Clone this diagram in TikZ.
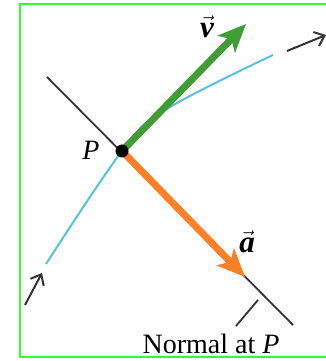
\documentclass[tikz,border=0pt]{standalone}
\usepackage{amsmath}
\usepackage{fontspec}
\setmainfont{Liberation Serif}
\usetikzlibrary{arrows.meta}
\definecolor{frameg}{HTML}{33FF33}
\definecolor{vgreen}{HTML}{3E9E34}
\definecolor{aorange}{HTML}{FF7F27}
\definecolor{curvec}{HTML}{55C3E0}
\definecolor{lineg}{HTML}{333333}
\newcommand{\myvecl}[1]{$\vec{\text{\bfseries\itshape #1}}$}
\tikzset{
  vecarrow/.style={line width=7pt,-{Stealth[length=28pt,width=24pt,inset=7pt]}},
  dirarrow/.style={line width=2pt,draw=lineg,-{Straight Barb[length=9pt,width=15pt]}},
  lbl/.style={font=\fontsize{28}{32}\selectfont, inner sep=0pt},
  veclbl/.style={font=\fontsize{31}{34}\selectfont, inner sep=0pt}
}
\begin{document}
\begin{tikzpicture}[x=1pt,y=1pt]
\useasboundingbox (0,0) rectangle (326,361);
\draw[frameg, line width=2pt] (340,356.5) -- (20,356.5) -- (20,4) -- (340,4);
% curve
\coordinate (c0) at (46,97);
\coordinate (P) at (122,210);
\coordinate (c1) at (165,251);
\coordinate (c2) at (273,306);
\draw[curvec, line width=2pt] plot[smooth, tension=0.6] coordinates {(c0) (P) (c1) (c2)};
% normal line
\coordinate (n1) at (47,284);
\coordinate (n2) at (293,36);
\draw[lineg, line width=1.8pt] (n1) -- (n2);
% vectors
\coordinate (vt) at (246,337);
\coordinate (at) at (245,84);
\draw[vecarrow, vgreen] (P) -- (vt);
\draw[vecarrow, aorange] (P) -- (at);
\fill[black] (P) circle (6.5);
% labels
\node[lbl] (Plab) at (91,211) {\textit{P}};
\node[veclbl] (vlab) at (207,334) {\myvecl{v}};
\node[veclbl] (alab) at (247,119) {\myvecl{a}};
% direction arrows
\coordinate (d1s) at (25,56);
\coordinate (d1e) at (42,88);
\draw[dirarrow] (d1s) -- (d1e);
\coordinate (d2s) at (287,310);
\coordinate (d2e) at (326,326);
\draw[dirarrow] (d2s) -- (d2e);
% normal label
\node[lbl] (nlab) at (211,17) {Normal at \textit{P}};
\coordinate (l1) at (258,61);
\coordinate (l2) at (236,35);
\draw[lineg, line width=1.8pt] (l1) -- (l2);
\end{tikzpicture}
\end{document}
